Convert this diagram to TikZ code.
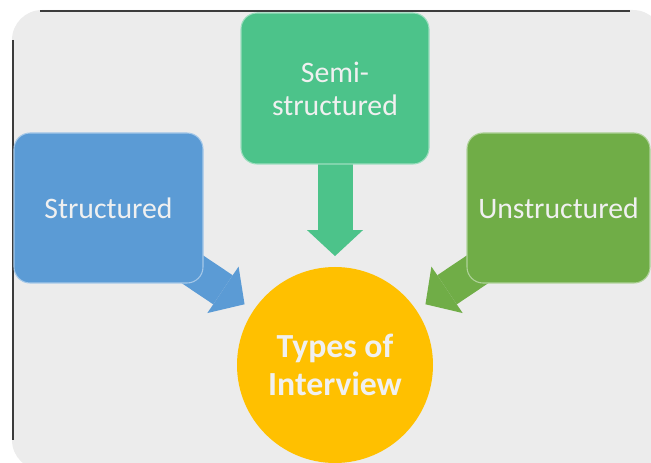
\documentclass[tikz,border=0pt]{standalone}
\usepackage{fontspec}
\setmainfont{Carlito}
\usetikzlibrary{arrows.meta}
\definecolor{pagegray}{HTML}{ECECEC}
\definecolor{edgegray}{HTML}{3C3C3C}
\definecolor{blueacc}{HTML}{5B9BD5}
\definecolor{tealacc}{HTML}{4CC38A}
\definecolor{greenacc}{HTML}{70AD47}
\definecolor{goldacc}{HTML}{FFC000}
\definecolor{labelwhite}{HTML}{F0F0F0}
\pgfdeclarelayer{back}
\pgfdeclarelayer{mid}
\pgfsetlayers{back,mid,main}
\tikzset{
  typebox/.style={rectangle, rounded corners=12pt, inner sep=0pt, align=center,
    text=labelwhite, font=\fontsize{22.3}{24.8}\selectfont, line width=0.8pt},
  hub/.style={circle, fill=goldacc, minimum size=147pt, inner sep=0pt, align=center,
    text=labelwhite, font=\bfseries\fontsize{25.3}{28.5}\selectfont},
  blockarrow/.style={line width=26.25pt,
    -{Triangle[length=19.5pt,width=42pt,line width=0pt]}, shorten >=8pt},
  edgeline/.style={edgegray, line width=1.1pt}
}
\begin{document}
\begin{tikzpicture}[x=0.75pt,y=-0.75pt]
\useasboundingbox (0,0) rectangle (651,463);

% category boxes and the central circle
\node[typebox, fill=blueacc, draw=blueacc!55!white,
      minimum width=141.75pt, minimum height=112.5pt] (structured) at (108.5,208) {Structured};
\node[typebox, fill=tealacc, draw=tealacc!55!white,
      minimum width=141pt, minimum height=113.25pt] (semi) at (335,88.5) {Semi-\\structured};
\node[typebox, fill=greenacc, draw=greenacc!55!white,
      minimum width=137.25pt, minimum height=112.5pt] (unstructured) at (558.5,208) {Unstructured};
\node[hub] (hub) at (335,365) {Types of\\Interview};

% tails of the diagonal arrows, tucked under the box corners
\coordinate (structuredTail) at (189,267);
\coordinate (unstructuredTail) at (481,267);

\begin{pgfonlayer}{mid}
  \draw[blockarrow, blueacc] (structuredTail) -- (hub);
  \draw[blockarrow, tealacc] (semi.center) -- (hub);
  \draw[blockarrow, greenacc] (unstructuredTail) -- (hub);
\end{pgfonlayer}

\begin{pgfonlayer}{back}
  \fill[pagegray, rounded corners=22.5pt] (12,10) rectangle (663,470);
  \draw[edgeline] (13,40) -- (13,440);
  \draw[edgeline] (40,11) -- (630,11);
\end{pgfonlayer}
\end{tikzpicture}
\end{document}
